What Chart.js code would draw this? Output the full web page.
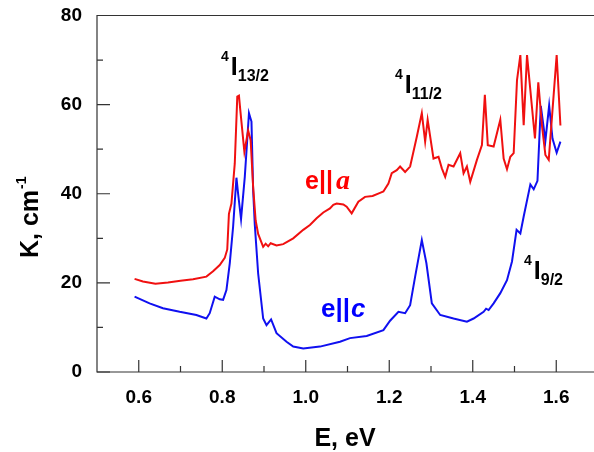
<!DOCTYPE html>
<html>
<head>
<meta charset="utf-8">
<script src="https://cdn.jsdelivr.net/npm/chart.js@4.4.1/dist/chart.umd.min.js"></script>
<style>
  html, body { margin: 0; padding: 0; background: #fff; overflow: hidden; }
  #wrap { width: 598px; height: 452px; }
</style>
</head>
<body>
<div id="wrap"><canvas id="chart" width="598" height="452"></canvas></div>
<script>
// e||a (red)
const energyA = [0.590, 0.610, 0.640, 0.670, 0.700, 0.730, 0.762, 0.778, 0.794, 0.806, 0.812, 0.816, 0.822, 0.830,
  0.836, 0.840, 0.843, 0.853, 0.862, 0.868, 0.874, 0.880, 0.886, 0.898, 0.904, 0.910, 0.916, 0.930, 0.946, 0.970,
  0.994, 1.010, 1.026, 1.042, 1.058, 1.066, 1.074, 1.090, 1.098, 1.110, 1.126, 1.142, 1.160, 1.178, 1.186, 1.198,
  1.206, 1.218, 1.226, 1.238, 1.250, 1.266, 1.278, 1.286, 1.292, 1.306, 1.318, 1.326, 1.334, 1.342, 1.354, 1.370,
  1.378, 1.386, 1.394, 1.410, 1.422, 1.429, 1.436, 1.450, 1.466, 1.474, 1.482, 1.490, 1.498, 1.506, 1.514, 1.522,
  1.530, 1.549, 1.557, 1.566, 1.574, 1.582, 1.601, 1.610];
const absA = [20.9, 20.3, 19.8, 20.1, 20.5, 20.8, 21.4, 22.6, 24.0, 25.6, 27.5, 35.5, 37.8, 46.8,
  61.8, 62.0, 59.0, 49.4, 54.2, 52.0, 41.5, 34.0, 31.0, 28.1, 28.8, 28.2, 28.9, 28.4, 28.7, 30.0,
  31.9, 33.0, 34.5, 35.8, 36.7, 37.5, 37.8, 37.6, 37.1, 35.6, 38.2, 39.3, 39.5, 40.2, 40.5, 42.3,
  44.6, 45.3, 46.1, 44.9, 46.1, 52.8, 58.1, 51.7, 56.6, 47.9, 48.3, 45.7, 43.8, 46.5, 46.1, 49.1,
  44.6, 46.1, 42.7, 47.6, 50.9, 62.2, 50.9, 50.6, 56.6, 47.9, 45.5, 48.3, 49.1, 65.5, 71.1, 55.4,
  71.1, 52.4, 65.0, 55.1, 48.7, 47.6, 71.1, 55.3];

// e||c (blue)
const energyC = [0.590, 0.626, 0.658, 0.698, 0.738, 0.762, 0.770, 0.782, 0.794, 0.802, 0.810, 0.818, 0.826, 0.834,
  0.838, 0.845, 0.854, 0.864, 0.870, 0.874, 0.878, 0.886, 0.898, 0.906, 0.917, 0.930, 0.954, 0.970, 0.994, 1.034,
  1.082, 1.106, 1.146, 1.186, 1.202, 1.222, 1.238, 1.250, 1.262, 1.278, 1.289, 1.302, 1.322, 1.354, 1.386, 1.402,
  1.426, 1.432, 1.438, 1.450, 1.466, 1.482, 1.494, 1.505, 1.514, 1.522, 1.538, 1.546, 1.555, 1.563, 1.574, 1.583,
  1.591, 1.601, 1.610];
const absC = [16.9, 15.4, 14.3, 13.5, 12.8, 12.0, 13.2, 16.9, 16.3, 16.2, 18.4, 24.4, 32.6, 43.6,
  40.0, 34.3, 43.8, 58.1, 56.2, 40.8, 33.0, 22.1, 12.0, 10.5, 11.8, 8.7, 6.8, 5.7, 5.3, 5.7,
  6.8, 7.6, 8.1, 9.4, 11.5, 13.5, 13.2, 15.0, 21.4, 29.6, 24.4, 15.4, 12.8, 12.0, 11.3, 12.0,
  13.5, 14.2, 13.9, 15.4, 17.7, 20.6, 24.8, 31.9, 31.1, 34.9, 42.1, 41.0, 42.9, 59.7, 51.9, 59.8,
  52.4, 49.2, 51.7];

const xTicks = [0.6, 0.8, 1.0, 1.2, 1.4, 1.6];
const xMinor = [0.7, 0.9, 1.1, 1.3, 1.5];
const yTicks = [0, 20, 40, 60, 80];
const yMinor = [10, 30, 50, 70];

const FONT = '"Liberation Sans", Arial, sans-serif';
const AXIS_COLOR = '#333';

const toPoints = (xs, ys) => xs.map((x, i) => ({ x: x, y: ys[i] }));

// term symbol like 4I13/2
const drawTerm = (ctx, x, base, sup, main, sub) => {
    ctx.fillStyle = '#000';
    ctx.textAlign = 'left';
    ctx.textBaseline = 'alphabetic';
    ctx.font = `bold 14px ${FONT}`;
    ctx.fillText(sup, x, base - 14);
    const w1 = ctx.measureText(sup).width;
    ctx.font = `bold 25px ${FONT}`;
    ctx.fillText(main, x + w1 + 2, base);
    const w2 = ctx.measureText(main).width;
    ctx.font = `bold 16px ${FONT}`;
    ctx.fillText(sub, x + w1 + w2 + 2, base + 6);
};

const decorPlugin = {
    id: 'decor',
    afterDraw(chart) {
        const { ctx, chartArea: a, scales: { x, y } } = chart;
        ctx.save();

        // frame: top, left, bottom (right side is cut off)
        ctx.strokeStyle = AXIS_COLOR;
        ctx.lineWidth = 1.2;
        ctx.beginPath();
        ctx.moveTo(a.right, a.top); ctx.lineTo(a.left, a.top);
        ctx.lineTo(a.left, a.bottom); ctx.lineTo(a.right, a.bottom);
        ctx.stroke();

        // inward ticks
        ctx.beginPath();
        xTicks.forEach(v => { const px = x.getPixelForValue(v); ctx.moveTo(px, a.bottom); ctx.lineTo(px, a.bottom - 12); });
        xMinor.forEach(v => { const px = x.getPixelForValue(v); ctx.moveTo(px, a.bottom); ctx.lineTo(px, a.bottom - 6); });
        yTicks.forEach(v => { const py = y.getPixelForValue(v); ctx.moveTo(a.left, py); ctx.lineTo(a.left + 13, py); });
        yMinor.forEach(v => { const py = y.getPixelForValue(v); ctx.moveTo(a.left, py); ctx.lineTo(a.left + 6, py); });
        ctx.stroke();

        // axis titles
        ctx.fillStyle = '#000';
        ctx.font = `bold 25px ${FONT}`;
        ctx.textAlign = 'center';
        ctx.textBaseline = 'alphabetic';
        ctx.fillText('E, eV', 345, 446);

        ctx.save();
        ctx.translate(38, 258);
        ctx.rotate(-Math.PI / 2);
        ctx.textAlign = 'left';
        ctx.font = `bold 25px ${FONT}`;
        ctx.fillText('K, cm', 0, 0);
        const kw = ctx.measureText('K, cm').width;
        ctx.font = `bold 14px ${FONT}`;
        ctx.fillText('-1', kw + 1, -12);
        ctx.restore();

        // level labels
        drawTerm(ctx, 221, 75, '4', 'I', '13/2');
        drawTerm(ctx, 395, 93, '4', 'I', '11/2');
        drawTerm(ctx, 524, 279, '4', 'I', '9/2');

        // polarisation labels
        ctx.textAlign = 'left';
        ctx.fillStyle = '#ff0000';
        ctx.font = `bold 25px ${FONT}`;
        ctx.fillText('e||', 305, 189);
        let w = ctx.measureText('e||').width;
        ctx.font = `italic bold 28px "Liberation Serif", "Times New Roman", serif`;
        ctx.fillText('a', 305 + w + 3, 189);

        ctx.fillStyle = '#0000ff';
        ctx.font = `bold 26px ${FONT}`;
        ctx.fillText('e||', 321, 317);
        w = ctx.measureText('e||').width;
        ctx.font = `italic bold 26px ${FONT}`;
        ctx.fillText('c', 321 + w + 1, 317);

        ctx.restore();
    }
};

new Chart(document.getElementById('chart'), {
    type: 'line',
    data: {
        datasets: [{
            label: 'e||a',
            data: toPoints(energyA, absA),
            borderColor: '#f01010',
            borderWidth: 2,
            pointRadius: 0,
            tension: 0,
            fill: false
        }, {
            label: 'e||c',
            data: toPoints(energyC, absC),
            borderColor: '#1010f0',
            borderWidth: 2,
            pointRadius: 0,
            tension: 0,
            fill: false
        }]
    },
    options: {
        responsive: false,
        animation: false,
        devicePixelRatio: 1,
        layout: { padding: { top: 15.5, right: 0, left: 0, bottom: 0 } },
        plugins: { legend: { display: false }, tooltip: { enabled: false } },
        scales: {
            x: {
                type: 'linear',
                min: 0.5,
                max: 1.7,
                afterBuildTicks: (scale) => { scale.ticks = xTicks.map(v => ({ value: v })); },
                afterFit: (scale) => { scale.height = 80; scale.paddingLeft = 0; scale.paddingRight = 0; },
                grid: { display: false, drawTicks: false },
                border: { display: false },
                ticks: {
                    padding: 14,
                    color: '#000',
                    font: { family: FONT, size: 19, weight: 'bold' },
                    callback: (v) => v.toFixed(1),
                    maxRotation: 0
                }
            },
            y: {
                min: 0,
                max: 80,
                afterBuildTicks: (scale) => { scale.ticks = yTicks.map(v => ({ value: v })); },
                afterFit: (scale) => { scale.width = 97; scale.paddingTop = 0; scale.paddingBottom = 0; },
                grid: { display: false, drawTicks: false },
                border: { display: false },
                ticks: {
                    padding: 15,
                    color: '#000',
                    font: { family: FONT, size: 19, weight: 'bold' }
                }
            }
        }
    },
    plugins: [decorPlugin]
});
</script>
</body>
</html>
